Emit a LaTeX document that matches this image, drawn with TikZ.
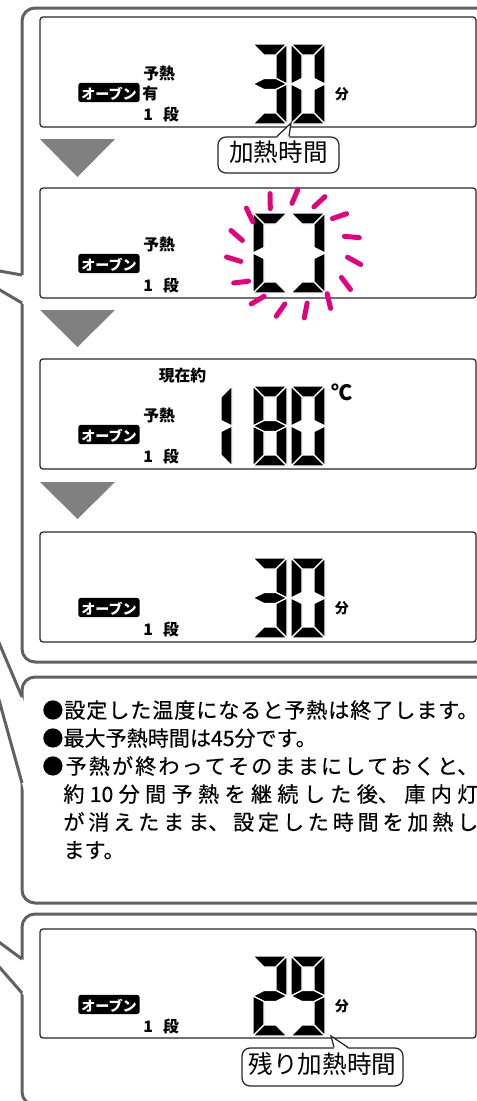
\documentclass[tikz,border=0pt]{standalone}
\usepackage{fontspec}
\setmainfont{Noto Sans CJK JP}
\newfontfamily\notesfont{Noto Sans CJK JP}[FakeBold=0.4]
\usetikzlibrary{calc}
\definecolor{blinkpink}{HTML}{E4007F}
\XeTeXlinebreaklocale "ja"
\XeTeXlinebreakskip=0pt plus 4pt

\begin{document}
\begin{tikzpicture}[x=0.2mm,y=-0.2mm]
\tikzset{
  panel/.style={draw=black!62,line width=0.6mm,rounded corners=2.6mm},
  tailline/.style={draw=black!62,line width=0.6mm},
  lcdbox/.style={draw=black!85,line width=0.25mm,rounded corners=0.6mm},
  nextstep/.style={fill=black!50},
  lcdslant/.style={xslant=0.12},
  lcdseg/.style={fill=black,draw=white,line width=0.25mm},
  lcdlabel/.style={anchor=west,inner sep=0pt,text height=0.88em,text depth=0.12em,font=\fontsize{9}{9}\selectfont\bfseries},
  lcdunit/.style={lcdlabel,anchor=center,font=\fontsize{8}{8}\selectfont\bfseries},
  ovenmode/.style={lcdlabel,anchor=east,fill=black,text=white,rounded corners=0.5mm,inner xsep=0.6mm,inner ysep=0.15mm,font=\fontsize{8}{8}\selectfont\bfseries},
  callout/.style={draw=black!85,line width=0.25mm,fill=white,rounded corners=1.6mm,inner sep=0pt,text height=0.88em,text depth=0.12em,font=\fontsize{14}{14}\selectfont},
  calloutline/.style={draw=black!85,line width=0.25mm},
  blink/.style={draw=blinkpink,line width=1mm,line cap=round},
  notes/.style={anchor=base west,inner sep=0pt},
  pics/sega/.style={code={\filldraw[lcdseg] (0,-80) -- (34,-80) -- (23,-69) -- (11,-69) -- cycle;}},
  pics/segb/.style={code={\filldraw[lcdseg] (34,-80) -- (34,-40) -- (23,-45.5) -- (23,-69) -- cycle;}},
  pics/segc/.style={code={\filldraw[lcdseg] (34,-40) -- (34,0) -- (23,-11) -- (23,-34.5) -- cycle;}},
  pics/segd/.style={code={\filldraw[lcdseg] (0,0) -- (34,0) -- (23,-11) -- (11,-11) -- cycle;}},
  pics/sege/.style={code={\filldraw[lcdseg] (0,-40) -- (11,-34.5) -- (11,-11) -- (0,0) -- cycle;}},
  pics/segf/.style={code={\filldraw[lcdseg] (0,-80) -- (11,-69) -- (11,-45.5) -- (0,-40) -- cycle;}},
  pics/segg/.style={code={\filldraw[lcdseg] (0,-40) -- (11,-45.5) -- (23,-45.5) -- (34,-40) -- (23,-34.5) -- (11,-34.5) -- cycle;}},
  pics/lcddigit/.style={code={\foreach \s in {#1} {\pic at (0,0) {seg\s};}}}
}
\useasboundingbox (0,0) rectangle (477,1101);
\clip (0,0) rectangle (477,1101);

\draw[panel] (22,8) rectangle (520,662);
\fill[white] (-46,263) -- (24,275.4) -- (24,304.2) -- cycle;
\draw[tailline] (22,275) -- (-46,263) -- (22,303);

\draw[panel] (22,677) rectangle (520,903);
\fill[white] (-47,534) -- (24,701.7) -- (24,790.2) -- cycle;
\draw[tailline] (22,697) -- (-47,534) -- (22,783);

\draw[panel] (22,914) rectangle (520,1105);
\fill[white] (-61,898) -- (24,960.5) -- (24,995.3) -- cycle;
\draw[tailline] (22,959) -- (-61,898) -- (22,993);

\draw[lcdbox] (40,17) rectangle (476,127);
\draw[lcdbox] (40,188) rectangle (476,298);
\draw[lcdbox] (40,359) rectangle (476,469);
\draw[lcdbox] (40,532) rectangle (476,642);
\draw[lcdbox] (40,929) rectangle (476,1038);

\fill[nextstep] (40,139) -- (115,139) -- (77.5,177) -- cycle;
\fill[nextstep] (40,310) -- (115,310) -- (77.5,347) -- cycle;
\fill[nextstep] (40,482) -- (115,482) -- (77.5,519) -- cycle;

\node[lcdlabel] (l1_pre) at (143,73) {予熱};
\node[ovenmode] (l1_oven) at (140,92.5) {オーブン};
\node[lcdlabel] (l1_yes) at (142,92.5) {有};
\node[lcdlabel] (l1_stage) at (143,114) {1\hspace{0.65em}段};
\pic[lcdslant] at (253,124) {lcddigit={a,b,g,c,d}};
\pic[lcdslant] at (291,124) {lcddigit={a,b,c,d,e,f}};
\node[lcdunit] (l1_unit) at (342,93) {分};
\node[callout,minimum width=24.2mm,minimum height=7.2mm] (call_heat) at (278.5,155) {加熱時間};
\coordinate (tip_heat) at (291,123);
\fill[white] (tip_heat) -- ($(call_heat.north)+(-1.5,1.5)$) -- ($(call_heat.north)+(10.5,1.5)$) -- cycle;
\draw[calloutline] ($(call_heat.north)+(-1.5,0)$) -- (tip_heat) -- ($(call_heat.north)+(10.5,0)$);

\node[lcdlabel] (l2_pre) at (143,244) {予熱};
\node[ovenmode] (l2_oven) at (140,263.5) {オーブン};
\node[lcdlabel] (l2_stage) at (143,285) {1\hspace{0.65em}段};
\pic[lcdslant] at (253,293) {lcddigit={a,d,e,f}};
\pic[lcdslant] at (291,293) {lcddigit={a,b,c,d}};
\coordinate (blink_c) at (294,254);
\foreach \a in {7,31,...,343}
  \draw[blink] ($(blink_c)+(\a:61 and 58)+(\a+22:-8)$) -- ++(\a+22:15);

\node[lcdlabel,anchor=center] (l3_now) at (182.5,374.5) {現在約};
\node[lcdlabel] (l3_pre) at (143,415) {予熱};
\node[ovenmode] (l3_oven) at (140,434.5) {オーブン};
\node[lcdlabel] (l3_stage) at (143,456) {1\hspace{0.65em}段};
\pic[lcdslant] at (198,466) {lcddigit={b,c}};
\pic[lcdslant] at (253,466) {lcddigit={a,b,c,d,e,f,g}};
\pic[lcdslant] at (291,466) {lcddigit={a,b,c,d,e,f}};
\node[lcdunit,font=\fontsize{12}{12}\selectfont\bfseries] (l3_unit) at (342,394) {℃};

\node[ovenmode] (l4_oven) at (140,607.5) {オーブン};
\node[lcdlabel] (l4_stage) at (143,629) {1\hspace{0.65em}段};
\pic[lcdslant] at (253,638) {lcddigit={a,b,g,c,d}};
\pic[lcdslant] at (291,638) {lcddigit={a,b,c,d,e,f}};
\node[lcdunit] (l4_unit) at (342,607) {分};

\node[notes] (notes) at (42,718) {\parbox[t]{87.2mm}{\notesfont\fontsize{12}{15.93}\selectfont\parindent=0pt\tolerance=9999\relax
{\parfillskip=0pt ●設定した温度になると予熱は終了します。\par}%
●最大予熱時間は45分です。\par
\hangindent=1em\hangafter=1 ●予熱が終わってそのままにしておくと、\linebreak 約10分間予熱を継続した後、庫内灯\linebreak が消えたまま、設定した時間を加熱し\linebreak ます。\par}};

\node[ovenmode] (l5_oven) at (140,1004.5) {オーブン};
\node[lcdlabel] (l5_stage) at (143,1026) {1\hspace{0.65em}段};
\pic[lcdslant] at (253,1036) {lcddigit={a,b,g,e,d}};
\pic[lcdslant] at (291,1036) {lcddigit={a,b,c,d,f,g}};
\node[lcdunit] (l5_unit) at (342,1005) {分};
\node[callout,minimum width=32.2mm,minimum height=7.6mm] (call_rest) at (322.5,1067) {残り加熱時間};
\coordinate (tip_rest) at (331,1036);
\fill[white] (tip_rest) -- ($(call_rest.north)+(11.5,1.5)$) -- ($(call_rest.north)+(25.5,1.5)$) -- cycle;
\draw[calloutline] ($(call_rest.north)+(11.5,0)$) -- (tip_rest) -- ($(call_rest.north)+(25.5,0)$);
\end{tikzpicture}
\end{document}
